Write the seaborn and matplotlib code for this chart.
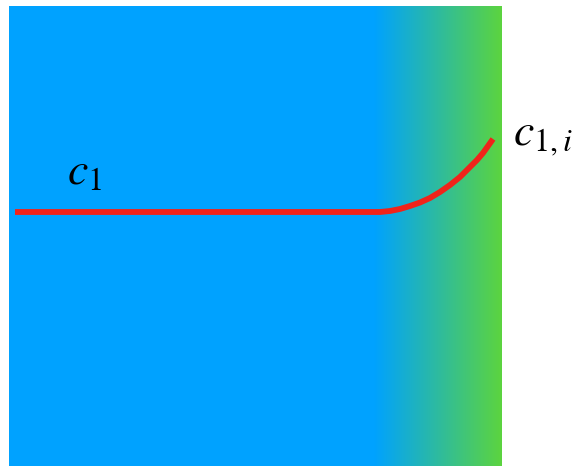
import numpy as np
import matplotlib
matplotlib.use("Agg")
import matplotlib.pyplot as plt
import seaborn as sns
import pandas as pd
from matplotlib.colors import LinearSegmentedColormap

# diagram coordinates (pixel units, y grows downward)
box_x = [9, 502]
box_y = [6, 466]
blend_start = 374

curve_x = [15, 370, 380, 390, 400, 410, 420, 430, 440, 450, 460, 470, 477, 483, 493]
curve_y = [212, 212, 212, 211, 209, 206, 202.5, 198, 192, 185, 177, 167, 160, 153, 139]

label_bulk = r"$c_1$"
label_interface = r"$c_{1,i}$"

blue = "#00a2ff"
green = "#5cd43f"

sns.set_style("white")
plt.rcParams["mathtext.fontset"] = "stix"

fig = plt.figure(figsize=(5.77, 4.68), dpi=100)
W, H = 577, 468
ax = fig.add_axes([box_x[0] / W, 1 - box_y[1] / H,
                   (box_x[1] - box_x[0]) / W, (box_y[1] - box_y[0]) / H])

# solid blue part
ax.axvspan(box_x[0], blend_start, color=blue, lw=0, zorder=0)
# blue -> green transition
cmap = LinearSegmentedColormap.from_list("bg", [blue, green])
grad = np.linspace(0, 1, 256)[None, :]
ax.imshow(grad, cmap=cmap, aspect="auto",
          extent=[blend_start, box_x[1], box_y[1], box_y[0]], zorder=0)
ax.set_xlim(box_x[0], box_x[1])
ax.set_ylim(box_y[1], box_y[0])

df = pd.DataFrame({"x": curve_x, "y": curve_y})
sns.lineplot(data=df, x="x", y="y", sort=False, color="#f0231a", lw=4.2,
             ax=ax, zorder=3, solid_capstyle="butt", solid_joinstyle="round")

ax.text(67, 184, label_bulk, fontsize=33, ha="left", va="baseline", color="black")
ax.text(513, 145, label_interface, fontsize=33, ha="left", va="baseline",
        color="black", clip_on=False)

ax.set_axis_off()
fig.savefig("out.png", dpi=100)
